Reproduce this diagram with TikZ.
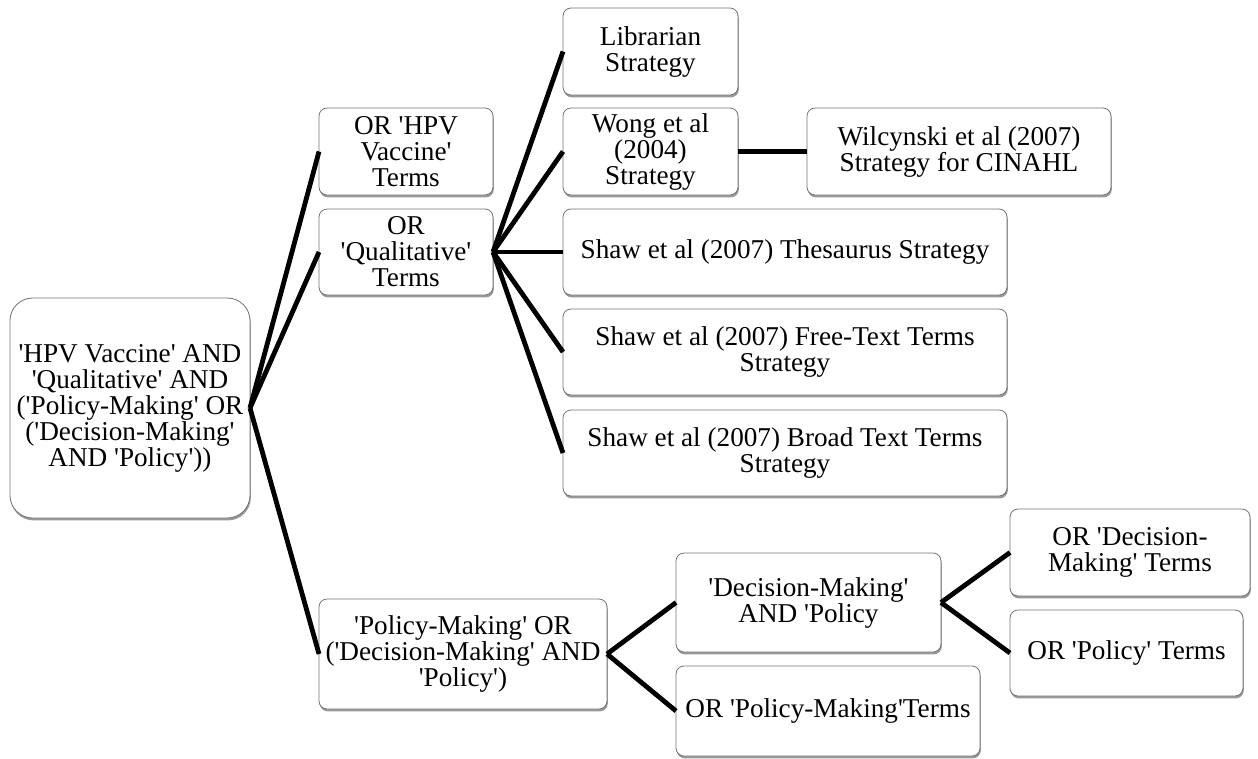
\documentclass[tikz,border=0pt]{standalone}
\usepackage{fontspec}
\setmainfont{Liberation Serif}[Ligatures=TeXOff]
\usetikzlibrary{shadows}
\begin{document}
\begin{tikzpicture}[x=0.75pt,y=-0.75pt,
  box/.style={draw=black!55, line width=0.6pt, fill=white, rounded corners=6pt,
    align=center, inner sep=0pt, outer sep=0pt,
    font=\fontsize{20.4}{19.5}\selectfont,
    drop shadow={shadow xshift=0.6pt, shadow yshift=-1.8pt, opacity=0.4, fill=black}},
  sz/.style 2 args={minimum width=#1*0.75pt, minimum height=#2*0.75pt},
  link/.style={line width=3.6pt, black}]
\useasboundingbox (0,0) rectangle (1258,758);

% boxes
\node[box, rounded corners=17pt, sz={240}{220}] (root) at (130,408)
  {'HPV Vaccine' AND\\'Qualitative' AND\\('Policy-Making' OR\\('Decision-Making'\\AND 'Policy'))};
\node[box, sz={174}{87}] (hpv) at (406,151.5) {OR 'HPV\\Vaccine'\\Terms};
\node[box, sz={174}{86}] (qual) at (406,252) {OR\\'Qualitative'\\Terms};
\node[box, sz={175}{87}] (lib) at (650.5,51.5) {Librarian\\Strategy};
\node[box, sz={175}{87}] (wong) at (650.5,151.5) {Wong et al\\(2004)\\Strategy};
\node[box, sz={304}{87}] (wil) at (959,151.5) {Wilcynski et al (2007)\\Strategy for CINAHL};
\node[box, sz={444}{86}] (thes) at (785,252) {Shaw et al (2007) Thesaurus Strategy};
\node[box, sz={444}{86}] (free) at (785,352) {Shaw et al (2007) Free-Text Terms\\Strategy};
\node[box, sz={444}{86}] (broad) at (785,453) {Shaw et al (2007) Broad Text Terms\\Strategy};
\node[box, sz={288}{110}] (pol) at (463,654) {'Policy-Making' OR\\('Decision-Making' AND\\'Policy')};
\node[box, sz={265}{99}] (dec) at (808.5,602.5) {'Decision-Making'\\AND 'Policy};
\node[box, sz={304}{90}] (pmt) at (828,711) {OR 'Policy-Making'Terms};
\node[box, sz={240}{87}] (dmt) at (1130,552.5) {OR 'Decision-\\Making' Terms};
\node[box, sz={233}{86}] (pt) at (1126.5,653) {OR 'Policy' Terms};

% connectors
\draw[link] (root.east) -- (hpv.west);
\draw[link] (root.east) -- (qual.west);
\draw[link] (root.east) -- (pol.west);
\draw[link] (qual.east) -- (lib.west);
\draw[link] (qual.east) -- (wong.west);
\draw[link] (qual.east) -- (thes.west);
\draw[link] (qual.east) -- (free.west);
\draw[link] (qual.east) -- (broad.west);
\draw[link] (wong.east) -- (wil.west);
\draw[link] (pol.east) -- (dec.west);
\draw[link] (pol.east) -- (pmt.west);
\draw[link] (dec.east) -- (dmt.west);
\draw[link] (dec.east) -- (pt.west);
\end{tikzpicture}
\end{document}
